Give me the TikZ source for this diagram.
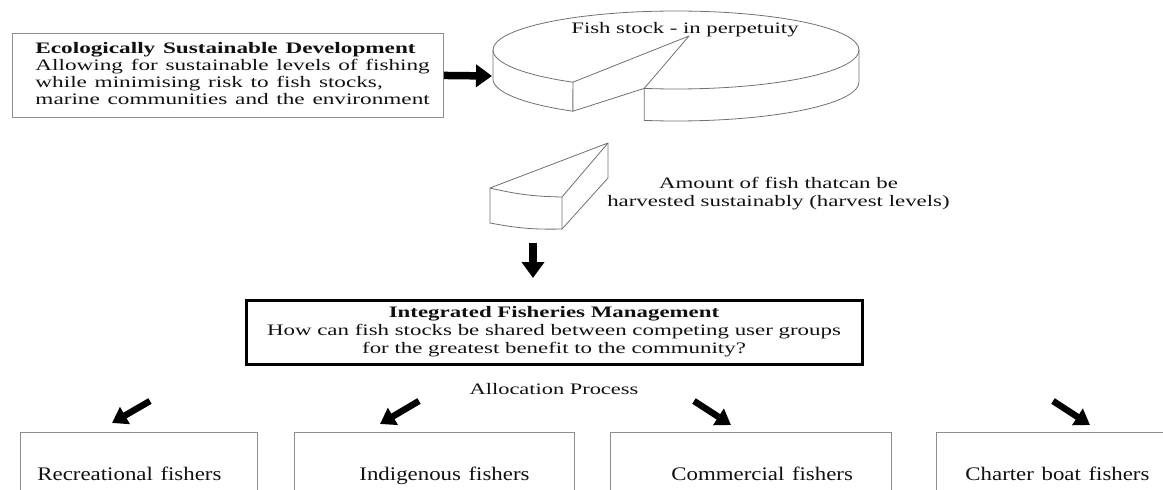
\documentclass[tikz,border=0pt]{standalone}
\usepackage{fontspec}
\setmainfont{Liberation Serif}
\usepackage{graphicx}
\usetikzlibrary{arrows.meta}
\definecolor{boxgray}{HTML}{8E8E8E}
\definecolor{piegray}{HTML}{707070}
\definecolor{ink}{HTML}{111111}
\newcommand\hsl[2][1.43]{\scalebox{#1}[1]{\begin{tabular}{@{}l@{}}#2\end{tabular}}}
\newcommand\hsc[2][1.43]{\scalebox{#1}[1]{\begin{tabular}{@{}c@{}}#2\end{tabular}}}
\newcommand\topfont{\fontsize{16}{18}\selectfont}
\newcommand\esdfont{\fontsize{16}{17}\selectfont}
\newcommand\grpfont{\fontsize{19.2}{22}\selectfont}
\tikzset{
  thinbox/.style={draw=boxgray, line width=0.9pt},
  piece/.style={draw=piegray, line width=0.8pt, line join=round},
  bigarrow/.style={line width=7.5pt, -{Triangle[width=22pt,length=16pt]}},
  midarrow/.style={line width=6.5pt, -{Triangle[width=19pt,length=15pt]}},
  groupbox/.style={thinbox, anchor=north west, inner xsep=0pt, align=left,
     text height=13pt, text depth=5pt, inner ysep=36pt, font=\grpfont},
}
\begin{document}
\begin{tikzpicture}[x=1pt,y=-1pt, font=\topfont, text=ink]
\useasboundingbox (0,0) rectangle (1163,490);
\clip (0,0) rectangle (1163,490);

% ESD box
\node[thinbox, anchor=north west, text width=431pt, inner xsep=0pt, inner ysep=0pt,
      minimum height=84pt, align=left, font=\esdfont]
  (esd) at (12,33) {\hspace*{23pt}\hsl[1.45]{\textbf{Ecologically Sustainable Development}\\
  Allowing for sustainable levels of fishing\\
  while minimising risk to fish stocks,\\
  marine communities and the environment}};

% pie (fish stock)
\coordinate (pieL) at (492,76);
\draw[piece] (493,50) arc[start angle=180,end angle=360,x radius=183,y radius=39];
\draw[piece] (493,50) arc[start angle=180,end angle=124.3,x radius=183,y radius=39]
   -- (689,36) -- (644.2,88.4) arc[start angle=100,end angle=0,x radius=183,y radius=39];
\draw[piece] (493,50) -- (493,79) arc[start angle=180,end angle=124.3,x radius=183,y radius=39]
   -- (572.9,82.2);
\draw[piece] (572.9,111.2) -- (644.2,88.4);
\draw[piece] (644.2,88.4) -- (644.2,120.4) arc[start angle=100,end angle=0,x radius=183,y radius=39]
   -- (859,50);
\node (stock) at (685,29.4) {\hsc[1.42]{Fish stock - in perpetuity}};

\draw[bigarrow] (esd.east) -- (pieL);

% harvested wedge
\draw[piece] (490,188) -- (608,143) -- (562,197) to[bend left=6] (490,188)
   -- (490,223) to[bend right=6] (562,229) -- (562,197);
\draw[piece] (562,229) -- (608,178) -- (608,143);
\node (harvest) at (778.5,193.4) {\hsc{Amount of fish thatcan be\\harvested sustainably (harvest levels)}};

\coordinate (wedgebase) at (533,243);
\coordinate (ifmtop) at (533,278);
\draw[bigarrow] (wedgebase) -- (ifmtop);

% IFM box
\node[draw=black, line width=3pt, minimum width=616pt, minimum height=64pt, inner sep=0pt]
  (ifm) at (554,332) {\hsc{\textbf{Integrated Fisheries Management}\\
  How can fish stocks be shared between competing user groups\\
  for the greatest benefit to the community?}};

\node (alloc) at (554,390.4) {\hsc[1.4]{Allocation Process}};

% arrows to groups
\coordinate (a1s) at (150,401); \coordinate (a1e) at (112,423);
\coordinate (a2s) at (419,401); \coordinate (a2e) at (380,424);
\coordinate (a3s) at (694,401); \coordinate (a3e) at (731,425);
\coordinate (a4s) at (1053,401); \coordinate (a4e) at (1090,425);
\draw[midarrow] (a1s) -- (a1e);
\draw[midarrow] (a2s) -- (a2e);
\draw[midarrow] (a3s) -- (a3e);
\draw[midarrow] (a4s) -- (a4e);

% group boxes
\node[groupbox, text width=237pt] (rec) at (20,432) {\hspace*{17pt}\hsl[1.19]{Recreational fishers}};
\node[groupbox, text width=280pt] (ind) at (294,432) {\hspace*{65pt}\hsl[1.19]{Indigenous fishers}};
\node[groupbox, text width=281pt] (com) at (610,432) {\hspace*{61pt}\hsl[1.19]{Commercial fishers}};
\node[groupbox, text width=300pt] (cha) at (936,432) {\hspace*{29pt}\hsl[1.19]{Charter boat fishers}};
\end{tikzpicture}
\end{document}
